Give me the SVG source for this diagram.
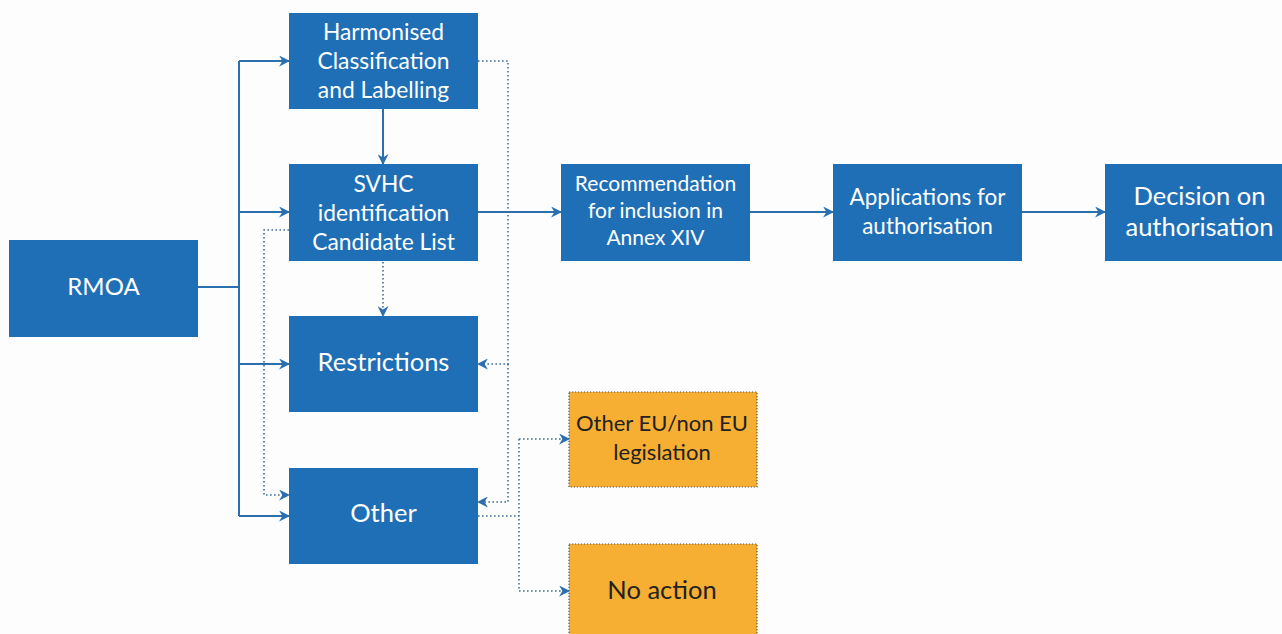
<svg xmlns="http://www.w3.org/2000/svg" width="1282" height="634" viewBox="0 0 1282 634">
<defs>
<style>
.box{fill:#1f6fb6}
.obox{fill:#f6ae33;stroke:#555;stroke-width:1.2;stroke-dasharray:1.2 1.8}
.t{font-family:Lato,"Open Sans","Liberation Sans",sans-serif;fill:#fff;text-anchor:middle}
.to{font-family:Lato,"Open Sans","Liberation Sans",sans-serif;fill:#222;text-anchor:middle}
.solid{fill:none;stroke:#2b6fae;stroke-width:2}
.dot{fill:none;stroke:#3f6e98;stroke-width:1.6;stroke-dasharray:1.6 2.4}
</style>
<marker id="ah" viewBox="0 0 10 10" refX="9" refY="5" markerWidth="11" markerHeight="11" markerUnits="userSpaceOnUse" orient="auto">
<path d="M0,0 L10,5 L0,10 L3,5 z" fill="#2b6fae"/>
</marker>
</defs>
<rect width="1282" height="634" fill="#fdfdfd"/>
<g id="connectors">
<path class="solid" d="M198,287 H239"/>
<path class="solid" d="M239,61 V516"/>
<path class="solid" d="M239,61 H289" marker-end="url(#ah)"/>
<path class="solid" d="M239,212 H289" marker-end="url(#ah)"/>
<path class="solid" d="M239,364 H289" marker-end="url(#ah)"/>
<path class="solid" d="M239,516 H289" marker-end="url(#ah)"/>
<path class="solid" d="M383,109 V164" marker-end="url(#ah)"/>
<path class="solid" d="M478,212 H561" marker-end="url(#ah)"/>
<path class="solid" d="M750,212 H833" marker-end="url(#ah)"/>
<path class="solid" d="M1022,212 H1105" marker-end="url(#ah)"/>
<path class="dot" d="M383,262 V316" marker-end="url(#ah)"/>
<path class="dot" d="M289,230 H264 V495 H289" marker-end="url(#ah)"/>
<path class="dot" d="M478,61 H508 V364 H478" marker-end="url(#ah)"/>
<path class="dot" d="M508,364 V502 H478" marker-end="url(#ah)"/>
<path class="dot" d="M478,516 H519"/>
<path class="dot" d="M519,439 V591"/>
<path class="dot" d="M519,439 H569" marker-end="url(#ah)"/>
<path class="dot" d="M519,591 H569" marker-end="url(#ah)"/>
</g>
<g id="rmoa"><rect class="box" x="9" y="240" width="189" height="97"/><text class="t" x="103.5" y="295" font-size="24">RMOA</text></g>
<g id="harmonised"><rect class="box" x="289" y="13" width="189" height="96"/><text class="t" font-size="22.8"><tspan x="383.5" y="40">Harmonised</tspan><tspan x="383.5" y="69">Classification</tspan><tspan x="383.5" y="98">and Labelling</tspan></text></g>
<g id="svhc"><rect class="box" x="289" y="164" width="189" height="97"/><text class="t" font-size="22.8"><tspan x="383.5" y="192">SVHC</tspan><tspan x="383.5" y="221">identification</tspan><tspan x="383.5" y="250">Candidate List</tspan></text></g>
<g id="restrictions"><rect class="box" x="289" y="316" width="189" height="96"/><text class="t" x="383.5" y="371" font-size="25.5">Restrictions</text></g>
<g id="other"><rect class="box" x="289" y="468" width="189" height="96"/><text class="t" x="383.5" y="522" font-size="25.5">Other</text></g>
<g id="recommendation"><rect class="box" x="561" y="164" width="189" height="97"/><text class="t" font-size="21"><tspan x="655.5" y="191">Recommendation</tspan><tspan x="655.5" y="218">for inclusion in</tspan><tspan x="655.5" y="245">Annex XIV</tspan></text></g>
<g id="applications"><rect class="box" x="833" y="164" width="189" height="97"/><text class="t" font-size="22.5"><tspan x="927.5" y="205">Applications for</tspan><tspan x="927.5" y="234">authorisation</tspan></text></g>
<g id="decision"><rect class="box" x="1105" y="164" width="189" height="97"/><text class="t" font-size="25.5"><tspan x="1199.5" y="205">Decision on</tspan><tspan x="1199.5" y="236">authorisation</tspan></text></g>
<g id="other-legislation"><rect class="obox" x="569" y="392" width="188" height="95"/><text class="to" font-size="22"><tspan x="662" y="431">Other EU/non EU</tspan><tspan x="662" y="460">legislation</tspan></text></g>
<g id="no-action"><rect class="obox" x="569" y="544" width="188" height="95"/><text class="to" x="662" y="599" font-size="25.5">No action</text></g>
</svg>
